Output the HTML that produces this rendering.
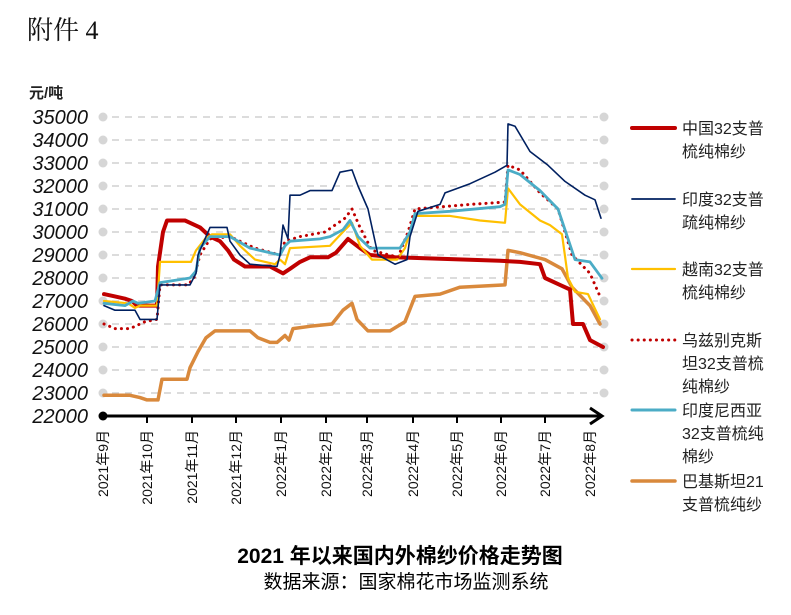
<!DOCTYPE html>
<html><head><meta charset="utf-8"><style>
body{margin:0;background:#fff;}
svg{display:block;}
text{font-family:"Liberation Sans","Noto Sans CJK SC",sans-serif;}
</style></head><body>
<svg width="791" height="615" viewBox="0 0 791 615" xmlns="http://www.w3.org/2000/svg">
<rect width="791" height="615" fill="#fff"/>
<text x="27" y="39" font-size="26" style="font-family:'Liberation Serif','Noto Serif CJK SC',serif" fill="#111">附件 4</text>
<text x="29" y="98" font-size="15" font-weight="bold" fill="#222">元/吨</text>
<g font-size="20" font-style="italic" fill="#111" text-anchor="end">
<text x="88" y="124">35000</text><text x="88" y="147">34000</text><text x="88" y="170">33000</text><text x="88" y="193">32000</text><text x="88" y="216">31000</text><text x="88" y="239">30000</text><text x="88" y="262">29000</text><text x="88" y="285">28000</text><text x="88" y="308">27000</text><text x="88" y="331">26000</text><text x="88" y="354">25000</text><text x="88" y="377">24000</text><text x="88" y="400">23000</text><text x="88" y="423">22000</text>
</g>
<g stroke="#d0d0d0" stroke-width="1.5" stroke-dasharray="7,6">
<line x1="112" y1="117" x2="598" y2="117"/><line x1="112" y1="140" x2="598" y2="140"/><line x1="112" y1="163" x2="598" y2="163"/><line x1="112" y1="186" x2="598" y2="186"/><line x1="112" y1="209" x2="598" y2="209"/><line x1="112" y1="232" x2="598" y2="232"/><line x1="112" y1="255" x2="598" y2="255"/><line x1="112" y1="278" x2="598" y2="278"/><line x1="112" y1="301" x2="598" y2="301"/><line x1="112" y1="324" x2="598" y2="324"/><line x1="112" y1="347" x2="598" y2="347"/><line x1="112" y1="370" x2="598" y2="370"/><line x1="112" y1="393" x2="598" y2="393"/>
</g>
<g fill="#d6d6d6">
<circle cx="103" cy="117" r="4.5"/><circle cx="103" cy="140" r="4.5"/><circle cx="103" cy="163" r="4.5"/><circle cx="103" cy="186" r="4.5"/><circle cx="103" cy="209" r="4.5"/><circle cx="103" cy="232" r="4.5"/><circle cx="103" cy="255" r="4.5"/><circle cx="103" cy="278" r="4.5"/><circle cx="103" cy="301" r="4.5"/><circle cx="103" cy="324" r="4.5"/><circle cx="103" cy="347" r="4.5"/><circle cx="103" cy="370" r="4.5"/><circle cx="103" cy="393" r="4.5"/>
<circle cx="604" cy="117" r="4.5"/><circle cx="604" cy="140" r="4.5"/><circle cx="604" cy="163" r="4.5"/><circle cx="604" cy="186" r="4.5"/><circle cx="604" cy="209" r="4.5"/><circle cx="604" cy="232" r="4.5"/><circle cx="604" cy="255" r="4.5"/><circle cx="604" cy="278" r="4.5"/><circle cx="604" cy="301" r="4.5"/><circle cx="604" cy="324" r="4.5"/><circle cx="604" cy="347" r="4.5"/><circle cx="604" cy="370" r="4.5"/><circle cx="604" cy="393" r="4.5"/>
</g>
<g fill="none" stroke-linejoin="round" stroke-linecap="round">
<polyline stroke="#D9893C" stroke-width="3.5" points="104,395.3 130,395.3 140,397.6 147,399.9 158,399.9 162,379.2 187,379.2 190,367.7 198,351.6 206,337.8 215,330.9 250,330.9 258,337.8 270,342.4 277,342.4 285,335.5 289,340.1 293,328.6 310,326.3 332,324 343,310.2 352,303.3 357,319.4 368,330.9 390,330.9 405,321.7 415,296.4 440,294.1 460,287.2 505,284.9 508,250.4 520,252.7 545,259.6 562,268.8 572,287.2 590,305.6 600,324"/>
<polyline stroke="#C00000" stroke-width="4" points="104,294.1 115,296.4 125,298.7 132,301 137,305.6 157,305.6 158,266.5 163,232 167,220.5 185,220.5 190,222.8 200,227.4 210,236.6 220,241.2 228,250.4 234,259.6 245,266.5 270,266.5 283,273.4 290,268.8 300,261.9 310,257.3 328,257.3 336,252.7 348,238.9 360,248.1 370,255 395,257.3 500,260.75 520,261.9 540,264.2 545,278 560,284.9 570,289.5 573,324 583,324 590,340.1 603,347"/>
<polyline stroke="#FFC000" stroke-width="2.2" points="104,301 128,303.3 135,307.9 140,305.6 157,305.6 160,261.9 191,261.9 196,250.4 205,238.9 212,234.3 230,234.3 240,245.8 255,259.6 275,264.2 280,259.6 285,264.2 290,248.1 330,245.8 345,229.7 352,222.8 360,245.8 372,259.6 397,259.6 405,248.1 415,215.9 450,215.9 480,220.5 505,222.8 508,188.3 520,204.4 540,220.5 550,225.1 562,234.3 568,278 575,291.8 588,294.1 600,319.4"/>
<polyline stroke="#C00000" stroke-width="3" stroke-dasharray="0.1,6" points="104,324 115,328.6 130,328.6 145,321.7 157,319.4 160,284.9 188,284.9 194,278 200,255 210,238.9 230,236.6 255,248.1 280,255 285,241.2 300,236.6 325,232 345,218.2 352,209 360,227.4 372,250.4 398,257.3 408,232 415,209 470,204.4 505,202.1 508,165.3 520,169.9 540,192.9 558,209 572,255 590,273.4 600,296.4"/>
<polyline stroke="#4BACC6" stroke-width="2.8" points="104,303.3 125,305.6 133,301 138,303.3 155,301 160,282.6 190,278 196,271.1 200,248.1 210,236.6 230,236.6 250,248.1 270,252.7 280,255 285,245.8 290,241.2 320,238.9 330,236.6 343,229.7 350,220.5 358,236.6 370,248.1 400,248.1 410,232 415,213.6 450,211.3 500,206.7 505,204.4 508,169.9 520,174.5 540,190.6 558,209 575,259.6 590,261.9 602,278.3"/>
<polyline stroke="#002060" stroke-width="1.6" points="104,305.6 115,310.2 135,310.2 140,319.4 157,319.4 160,284.9 190,284.9 196,273.4 198,255 205,238.9 210,227.4 227,227.4 230,241.2 240,255 250,264.2 277,266.5 280,255 283,225.1 288,238.9 290,195.2 300,195.2 310,190.6 332,190.6 340,172.2 352,169.9 358,186 368,209 378,255 395,264.2 407,259.6 410,236.6 418,211.3 440,204.4 445,192.9 470,183.7 495,172.2 507,165.3 508,123.9 515,126.2 530,151.5 548,165.3 565,181.4 585,195.2 595,199.8 601,218.2"/>
</g>
<line x1="103" y1="416" x2="600" y2="416" stroke="#000" stroke-width="3"/>
<polyline points="590,408 602,416 590,424" fill="none" stroke="#000" stroke-width="3"/>
<circle cx="103" cy="416" r="4.5" fill="#000"/>
<g stroke="#000" stroke-width="2">
<line x1="147" y1="416" x2="147" y2="423"/><line x1="192" y1="416" x2="192" y2="423"/><line x1="236" y1="416" x2="236" y2="423"/><line x1="281" y1="416" x2="281" y2="423"/><line x1="326" y1="416" x2="326" y2="423"/><line x1="367" y1="416" x2="367" y2="423"/><line x1="413" y1="416" x2="413" y2="423"/><line x1="457" y1="416" x2="457" y2="423"/><line x1="501" y1="416" x2="501" y2="423"/><line x1="545" y1="416" x2="545" y2="423"/>
</g>
<g font-size="14" fill="#111" text-anchor="end">
<text transform="translate(108,430) rotate(-90)">2021年9月</text>
<text transform="translate(152,430) rotate(-90)">2021年10月</text>
<text transform="translate(197,430) rotate(-90)">2021年11月</text>
<text transform="translate(241,430) rotate(-90)">2021年12月</text>
<text transform="translate(286,430) rotate(-90)">2022年1月</text>
<text transform="translate(331,430) rotate(-90)">2022年2月</text>
<text transform="translate(372,430) rotate(-90)">2022年3月</text>
<text transform="translate(418,430) rotate(-90)">2022年4月</text>
<text transform="translate(462,430) rotate(-90)">2022年5月</text>
<text transform="translate(506,430) rotate(-90)">2022年6月</text>
<text transform="translate(550,430) rotate(-90)">2022年7月</text>
<text transform="translate(595,430) rotate(-90)">2022年8月</text>
</g>
<g stroke-linecap="round">
<line x1="632" y1="128" x2="675" y2="128" stroke="#C00000" stroke-width="4"/>
<line x1="632" y1="199" x2="675" y2="199" stroke="#002060" stroke-width="1.8"/>
<line x1="632" y1="269" x2="675" y2="269" stroke="#FFC000" stroke-width="2.2"/>
<line x1="632" y1="340" x2="675" y2="340" stroke="#C00000" stroke-width="3" stroke-dasharray="0.1,6"/>
<line x1="632" y1="410" x2="675" y2="410" stroke="#4BACC6" stroke-width="3"/>
<line x1="632" y1="481" x2="675" y2="481" stroke="#D9893C" stroke-width="3.5"/>
</g>
<g font-size="16" fill="#222">
<text x="682" y="134">中国32支普</text><text x="682" y="157">梳纯棉纱</text>
<text x="682" y="205">印度32支普</text><text x="682" y="228">疏纯棉纱</text>
<text x="682" y="275">越南32支普</text><text x="682" y="298">梳纯棉纱</text>
<text x="682" y="346">乌兹别克斯</text><text x="682" y="369">坦32支普梳</text><text x="682" y="392">纯棉纱</text>
<text x="682" y="416">印度尼西亚</text><text x="682" y="439">32支普梳纯</text><text x="682" y="462">棉纱</text>
<text x="682" y="487">巴基斯坦21</text><text x="682" y="510">支普梳纯纱</text>
</g>
<text x="400" y="563" font-size="21" font-weight="bold" text-anchor="middle" fill="#000">2021 年以来国内外棉纱价格走势图</text>
<text x="406" y="588" font-size="19" text-anchor="middle" fill="#000">数据来源：国家棉花市场监测系统</text>
</svg>
</body></html>
